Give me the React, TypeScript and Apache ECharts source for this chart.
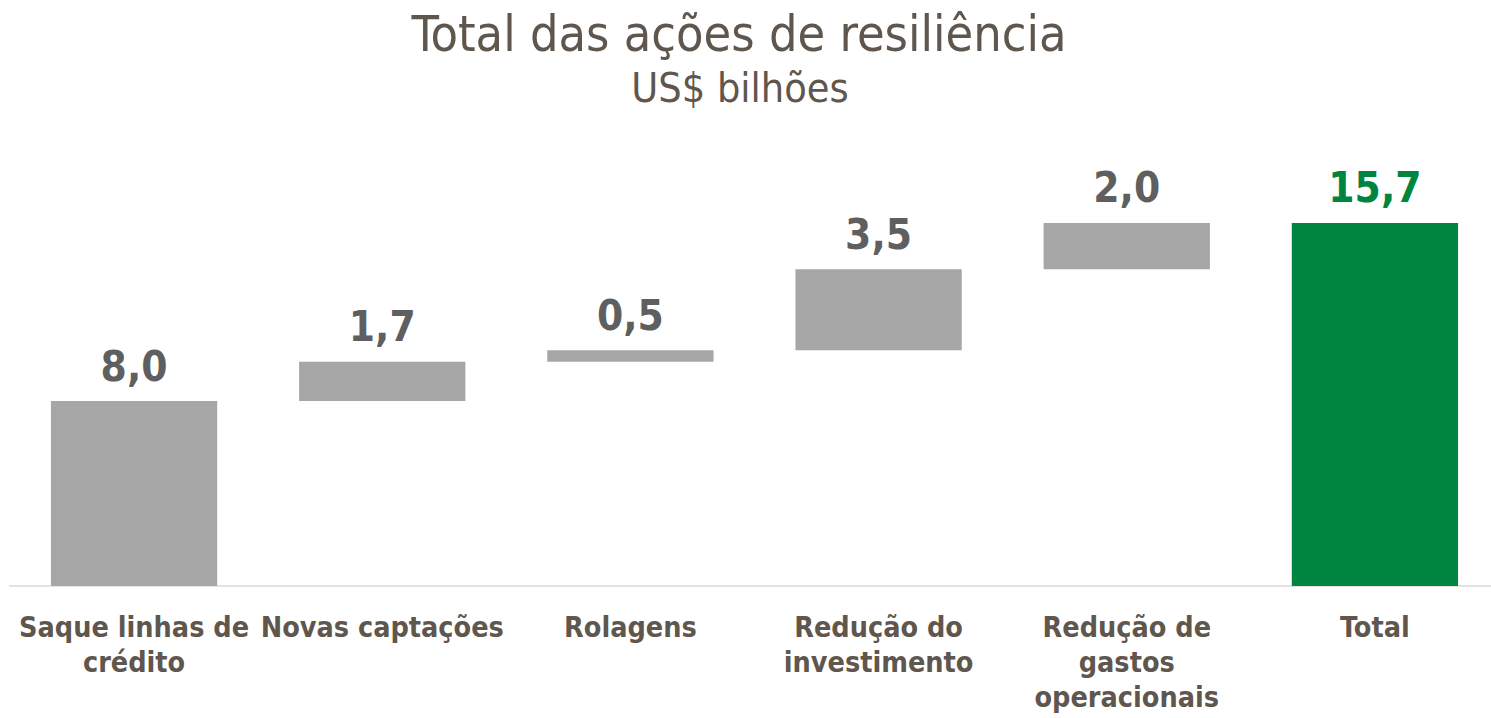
import React, { useEffect, useRef } from "react";
import * as echarts from "echarts";

const categories = [
  "Saque linhas de\ncrédito",
  "Novas captações",
  "Rolagens",
  "Redução do\ninvestimento",
  "Redução de\ngastos\noperacionais",
  "Total",
];
const values = [8.0, 1.7, 0.5, 3.5, 2.0, 15.7];
const isTotal = [false, false, false, false, false, true];

const titleText = "Total das ações de resiliência";
const subtitleText = "US$ bilhões";

const FONT = "'DejaVu Sans Condensed', 'DejaVu Sans', sans-serif";

export default function App() {
  const ref = useRef<HTMLDivElement>(null);
  useEffect(() => {
    document.body.style.margin = "0";
    if (!ref.current) return;
    const chart = echarts.init(ref.current, null, { renderer: "svg" });
    let run = 0;
    const bases = values.map((v, i) => {
      if (isTotal[i]) return 0;
      const b = run;
      run += v;
      return b;
    });
    chart.setOption({
      animation: false,
      backgroundColor: "#ffffff",
      title: [
        {
          text: titleText,
          left: 734,
          textAlign: "center",
          top: 4,
          textStyle: { fontFamily: FONT, fontSize: 50, fontWeight: "normal", color: "#5f574e" },
        },
        {
          text: subtitleText,
          left: 735,
          textAlign: "center",
          top: 62,
          textStyle: { fontFamily: FONT, fontSize: 41, fontWeight: "normal", color: "#5f574e" },
        },
      ],
      grid: { left: 10, width: 1489, top: 216, bottom: 132, outerBoundsMode: "none", containLabel: false },
      xAxis: {
        type: "category",
        data: categories,
        axisLine: { lineStyle: { color: "#e6e2e2", width: 2 } },
        axisTick: { show: false },
        axisLabel: {
          interval: 0,
          margin: 24,
          fontFamily: FONT,
          fontSize: 28.5,
          fontWeight: "bold",
          lineHeight: 35,
          color: "#5f574e",
        },
      },
      yAxis: { type: "value", min: 0, max: 16, show: false, splitLine: { show: false } },
      series: [
        {
          type: "bar",
          stack: "w",
          silent: true,
          itemStyle: { color: "transparent" },
          data: bases,
          barWidth: "67%",
        },
        {
          type: "bar",
          stack: "w",
          barWidth: "67%",
          data: values.map((v, i) => ({
            value: v,
            itemStyle: { color: isTotal[i] ? "#008541" : "#a6a6a6" },
            label: { color: isTotal[i] ? "#008541" : "#5f5f5f" },
          })),
          label: {
            show: true,
            position: "top",
            distance: 14,
            fontFamily: FONT,
            fontSize: 42,
            fontWeight: "bold",
            formatter: (p: any) => Number(p.value).toFixed(1).replace(".", ","),
          },
        },
      ],
    });
    return () => chart.dispose();
  }, []);
  return <div ref={ref} style={{ width: 1491, height: 718 }} />;
}
